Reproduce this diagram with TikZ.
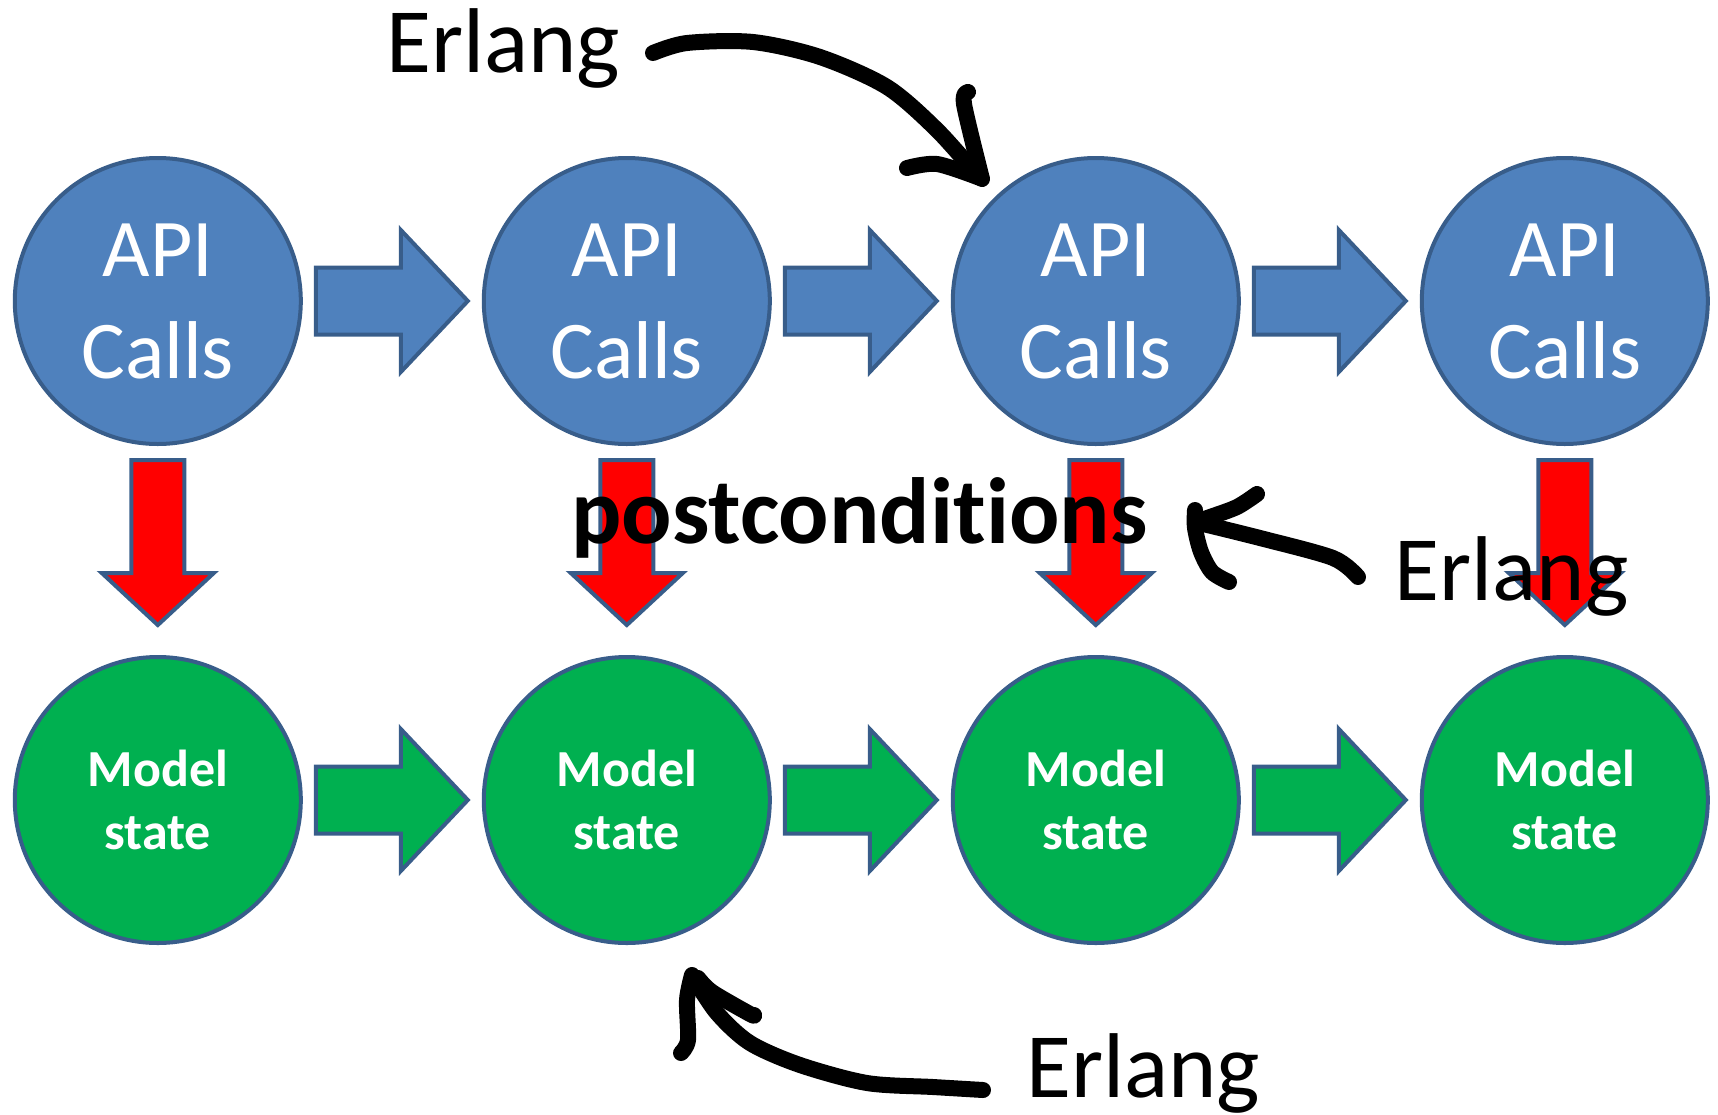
\documentclass[tikz,border=0pt]{standalone}
\usepackage{fontspec}
\setmainfont{Carlito}[Ligatures=NoCommon]
\usetikzlibrary{calc}
\definecolor{apiblue}{HTML}{4F81BD}
\definecolor{edgeblue}{HTML}{385D8A}
\definecolor{modelgreen}{HTML}{00B050}
\definecolor{condred}{HTML}{FF0000}
\tikzset{
  ball/.style={circle, draw=edgeblue, line width=4pt, minimum size=286pt, inner sep=0pt, text=white, align=center},
  apic/.style={ball, fill=apiblue, font=\fontsize{82}{102}\selectfont},
  modelc/.style={ball, fill=modelgreen, font=\bfseries\fontsize{52}{63.5}\selectfont},
  blockedge/.style={draw=edgeblue, line width=4pt, line join=miter},
  harrow/.style={blockedge, to path={let \p1=(\tikztostart), \p2=(\tikztotarget) in
    (\x1,\y1+33.5pt) -- (\x2-67pt,\y1+33.5pt) -- (\x2-67pt,\y1+71pt) -- (\x2,\y1)
    -- (\x2-67pt,\y1-71pt) -- (\x2-67pt,\y1-33.5pt) -- (\x1,\y1-33.5pt) -- cycle}},
  varrow/.style={blockedge, fill=condred, to path={let \p1=(\tikztostart), \p2=(\tikztotarget) in
    (\x1-26.5pt,\y1) -- (\x1-26.5pt,\y2+52pt) -- (\x1-56pt,\y2+52pt) -- (\x1,\y2)
    -- (\x1+56pt,\y2+52pt) -- (\x1+26.5pt,\y2+52pt) -- (\x1+26.5pt,\y1) -- cycle}},
  erl/.style={anchor=base west, inner sep=0pt, font=\fontsize{92}{110}\selectfont},
  pen/.style={line width=16pt, line cap=round, line join=round},
}
\begin{document}
\begin{tikzpicture}[x=1pt,y=-1pt]
\useasboundingbox (0,0) rectangle (1718,1114);
% circles
\foreach \i/\xx in {1/157.8,2/626.8,3/1095.8,4/1564.8}{
  \node[apic] (a\i) at (\xx,301) {API\\Calls};
  \node[modelc] (m\i) at (\xx,800) {Model\\state};
}
% horizontal block arrows
\foreach \i/\j in {1/2,2/3,3/4}{
  \path[harrow, fill=apiblue] ($(a\i.east)+(13,0)$) to ($(a\j.west)+(-14,0)$);
  \path[harrow, fill=modelgreen] ($(m\i.east)+(13,0)$) to ($(m\j.west)+(-14,0)$);
}
% vertical red arrows
\foreach \i in {1,2,3,4}{
  \path[varrow] ($(a\i.south)+(0,14)$) to ($(m\i.north)+(0,-30)$);
}
% texts
\node[anchor=base, inner sep=0pt, font=\bfseries\fontsize{94}{110}\selectfont] (post) at (859.3,543.3) {postconditions};
\node[erl] (e1) at (386,72.7) {Erlang};
\node[erl] (e2) at (1394.4,600) {Erlang};
\node[erl] (e3) at (1026,1097.3) {Erlang};
% hand drawn arrows
\draw[pen] plot[smooth] coordinates {(653,53) (687,43) (753,42) (820,57) (887,87) (937,130) (978,176)};
\draw[pen] plot[smooth] coordinates {(968,92) (964,104) (982,179)};
\draw[pen] plot[smooth] coordinates {(907,168) (937,164) (980,178)};
\draw[pen] plot[smooth] coordinates {(1358,577) (1333,558) (1260,538) (1195,522)};
\draw[pen] plot[smooth] coordinates {(1257,494) (1237,507) (1210,517) (1195,522)};
\draw[pen] plot[smooth] coordinates {(1195,510) (1195,528) (1201,552) (1212,572) (1229,582)};
\draw[pen] plot[smooth] coordinates {(983,1090) (933,1087) (867,1083) (800,1065) (750,1043) (717,1013) (693,977)};
\draw[pen] plot[smooth] coordinates {(692,975) (687,1000) (688,1040) (681,1053)};
\draw[pen] plot[smooth] coordinates {(698,978) (712,992) (750,1014) (754,1015)};
\end{tikzpicture}
\end{document}
